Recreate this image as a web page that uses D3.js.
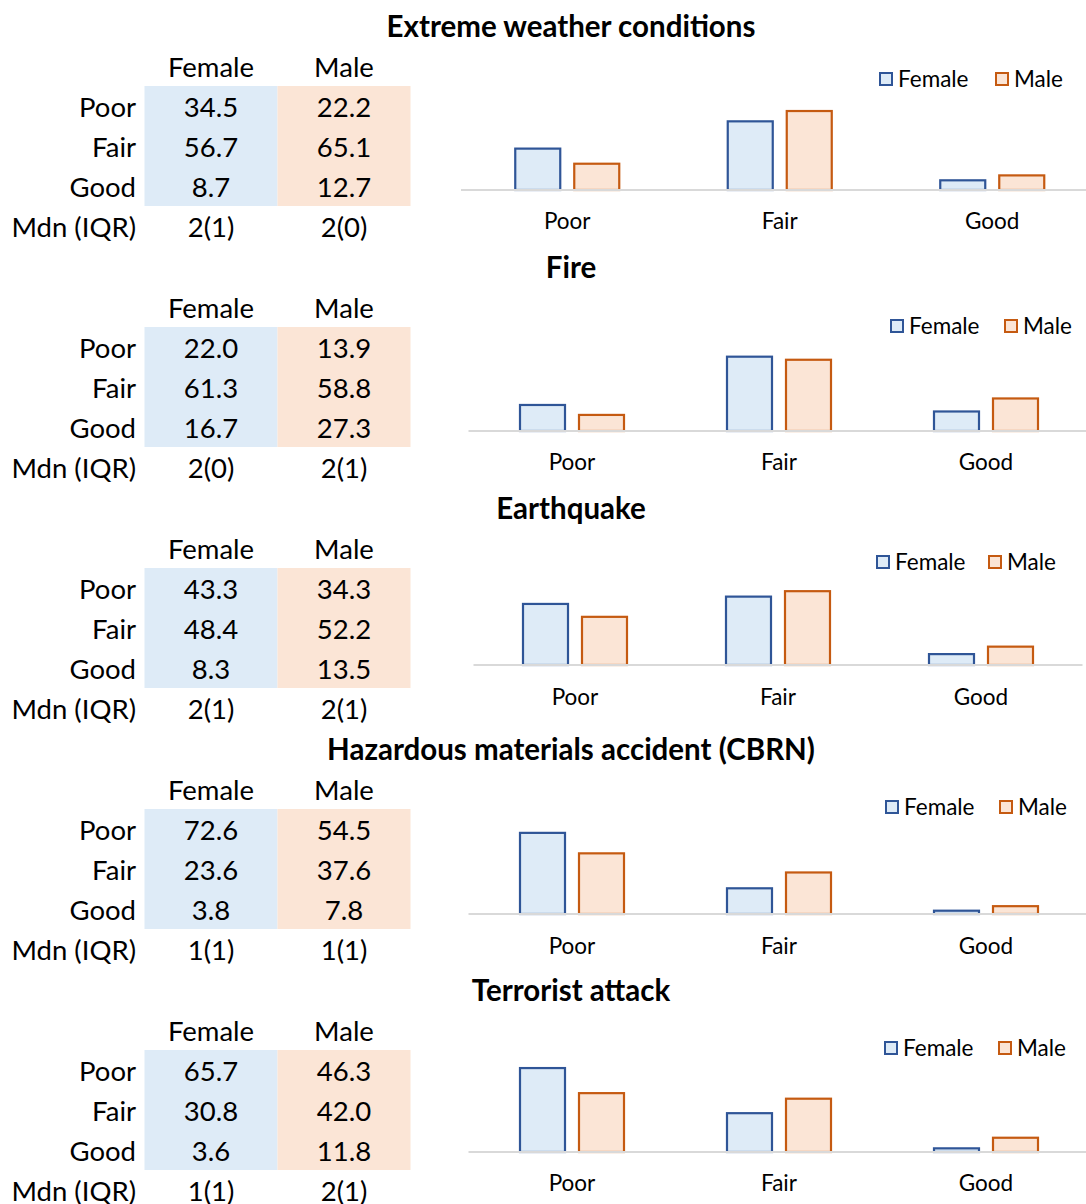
<!DOCTYPE html>
<html>
<head>
<meta charset="utf-8">
<script src="https://cdn.jsdelivr.net/npm/d3@7"></script>
<style>
  html, body { margin: 0; padding: 0; background: #ffffff; }
  svg { display: block; }
  text { font-family: Lato, "Open Sans", sans-serif; fill: #000; }
</style>
</head>
<body>
<svg id="chart" width="1086" height="1204"></svg>
<script>
// Perceived preparedness by hazard, split by gender (percentages)
const hazards = [
  "Extreme weather conditions",
  "Fire",
  "Earthquake",
  "Hazardous materials accident (CBRN)",
  "Terrorist attack"
];
const ratings = ["Poor", "Fair", "Good"];
const genders = ["Female", "Male"];

const femaleValues = [
  [34.5, 56.7, 8.7],
  [22.0, 61.3, 16.7],
  [43.3, 48.4, 8.3],
  [72.6, 23.6, 3.8],
  [65.7, 30.8, 3.6]
];
const maleValues = [
  [22.2, 65.1, 12.7],
  [13.9, 58.8, 27.3],
  [34.3, 52.2, 13.5],
  [54.5, 37.6, 7.8],
  [46.3, 42.0, 11.8]
];
const femaleMedian = ["2(1)", "2(0)", "2(1)", "1(1)", "1(1)"];
const maleMedian   = ["2(0)", "2(1)", "2(1)", "1(1)", "2(1)"];
const medianLabel = "Mdn (IQR)";

// styling
const fillColor   = { Female: "#deebf7", Male: "#fbe5d6" };
const strokeColor = { Female: "#2f5597", Male: "#c55a11" };
const tableFill   = { Female: "#deebf7", Male: "#fbe5d6" };

// per-panel layout of the bar charts
const panelStep = 241;
const chartLayout = [
  { x0: 461,   step: 212.5, base: 190, h: 86,   lab: 221, leg: 79, legX: 879, legGap: 116 },
  { x0: 468.5, step: 207,   base: 190, h: 86,   lab: 221, leg: 85, legX: 890, legGap: 114 },
  { x0: 473.5, step: 203,   base: 183, h: 86,   lab: 215, leg: 80, legX: 876, legGap: 112 },
  { x0: 468.5, step: 207,   base: 191, h: 90.5, lab: 223, leg: 84, legX: 885, legGap: 114 },
  { x0: 468.5, step: 207,   base: 188, h: 90.5, lab: 219, leg: 84, legX: 884, legGap: 114 }
];

const svg = d3.select("#chart");

hazards.forEach((title, i) => {
  const top = i * panelStep;
  const g = svg.append("g").attr("transform", `translate(0,${top})`);
  const L = chartLayout[i];

  // panel title
  g.append("text")
    .attr("x", 571).attr("y", 27).attr("dy", "0.34em")
    .attr("text-anchor", "middle")
    .style("font-weight", "bold").style("font-size", "29.5px")
    .text(title);

  // ---- table on the left ----
  const colX = d3.scalePoint().domain(genders).range([211, 344]);
  const rowY = d3.scalePoint().domain(["head", ...ratings, "mdn"]).range([68, 228]);
  const tableFont = "27.5px";
  const tableDy = "0.32em";

  genders.forEach(gd => {
    g.append("rect")
      .attr("x", colX(gd) - 66.5).attr("y", rowY("Poor") - 22)
      .attr("width", 133).attr("height", 120)
      .attr("fill", tableFill[gd]);
    g.append("text")
      .attr("x", colX(gd)).attr("y", rowY("head")).attr("dy", tableDy)
      .attr("text-anchor", "middle").style("font-size", tableFont)
      .text(gd);
  });

  ratings.forEach((r, j) => {
    g.append("text")
      .attr("x", 136).attr("y", rowY(r)).attr("dy", tableDy)
      .attr("text-anchor", "end").style("font-size", tableFont)
      .text(r);
    [["Female", femaleValues[i][j]], ["Male", maleValues[i][j]]].forEach(([gd, v]) => {
      g.append("text")
        .attr("x", colX(gd)).attr("y", rowY(r)).attr("dy", tableDy)
        .attr("text-anchor", "middle").style("font-size", tableFont)
        .text(d3.format(".1f")(v));
    });
  });

  g.append("text")
    .attr("x", 136).attr("y", rowY("mdn")).attr("dy", tableDy)
    .attr("text-anchor", "end").style("font-size", tableFont)
    .text(medianLabel);
  [["Female", femaleMedian[i]], ["Male", maleMedian[i]]].forEach(([gd, t]) => {
    g.append("text")
      .attr("x", colX(gd)).attr("y", rowY("mdn")).attr("dy", tableDy)
      .attr("text-anchor", "middle").style("font-size", tableFont)
      .text(t);
  });

  // ---- grouped bar chart on the right ----
  const maxV = d3.max([...femaleValues[i], ...maleValues[i]]);
  const yMax = Math.ceil(maxV / 10) * 10;
  const y = d3.scaleLinear().domain([0, yMax]).range([L.base, L.base - L.h]);
  const x0 = d3.scaleBand().domain(ratings).range([L.x0, L.x0 + 3 * L.step]);
  const x1 = d3.scaleBand().domain(genders).range([-53, 53]).paddingInner(12 / 59);

  const rows = ratings.map((r, j) => ({
    rating: r,
    values: [
      { g: "Female", v: femaleValues[i][j] },
      { g: "Male", v: maleValues[i][j] }
    ]
  }));

  const groups = g.selectAll(".grp").data(rows).join("g")
    .attr("class", "grp")
    .attr("transform", d => `translate(${x0(d.rating) + x0.bandwidth() / 2},0)`);

  groups.selectAll("rect").data(d => d.values).join("rect")
    .attr("x", d => x1(d.g) + 1)
    .attr("y", d => y(d.v) + 1)
    .attr("width", x1.bandwidth() - 2)
    .attr("height", d => y(0) - y(d.v) - 1)
    .attr("fill", d => fillColor[d.g])
    .attr("stroke", d => strokeColor[d.g])
    .attr("stroke-width", 2.2);

  // category axis
  const axis = g.append("g").attr("transform", `translate(0,${L.base})`)
    .call(d3.axisBottom(x0).tickSize(0).tickPadding(0));
  axis.select(".domain")
    .attr("d", `M${L.x0},0H${Math.min(L.x0 + 3 * L.step, 1086)}`)
    .attr("stroke", "#d9d9d9").attr("stroke-width", 2);
  axis.selectAll(".tick text")
    .attr("y", L.lab - L.base).attr("dy", "0.34em")
    .style("font-family", "Lato, sans-serif")
    .style("font-size", "22.5px").attr("fill", "#000");

  // legend
  const leg = g.append("g").attr("transform", `translate(${L.legX},${L.leg})`);
  genders.forEach((gd, k) => {
    const lx = k * L.legGap;
    leg.append("rect")
      .attr("x", lx + 1).attr("y", -6)
      .attr("width", 12).attr("height", 12)
      .attr("fill", fillColor[gd]).attr("stroke", strokeColor[gd]).attr("stroke-width", 2);
    leg.append("text")
      .attr("x", lx + 19).attr("y", 0).attr("dy", "0.34em")
      .style("font-size", "22.5px")
      .text(gd);
  });
});
</script>
</body>
</html>
